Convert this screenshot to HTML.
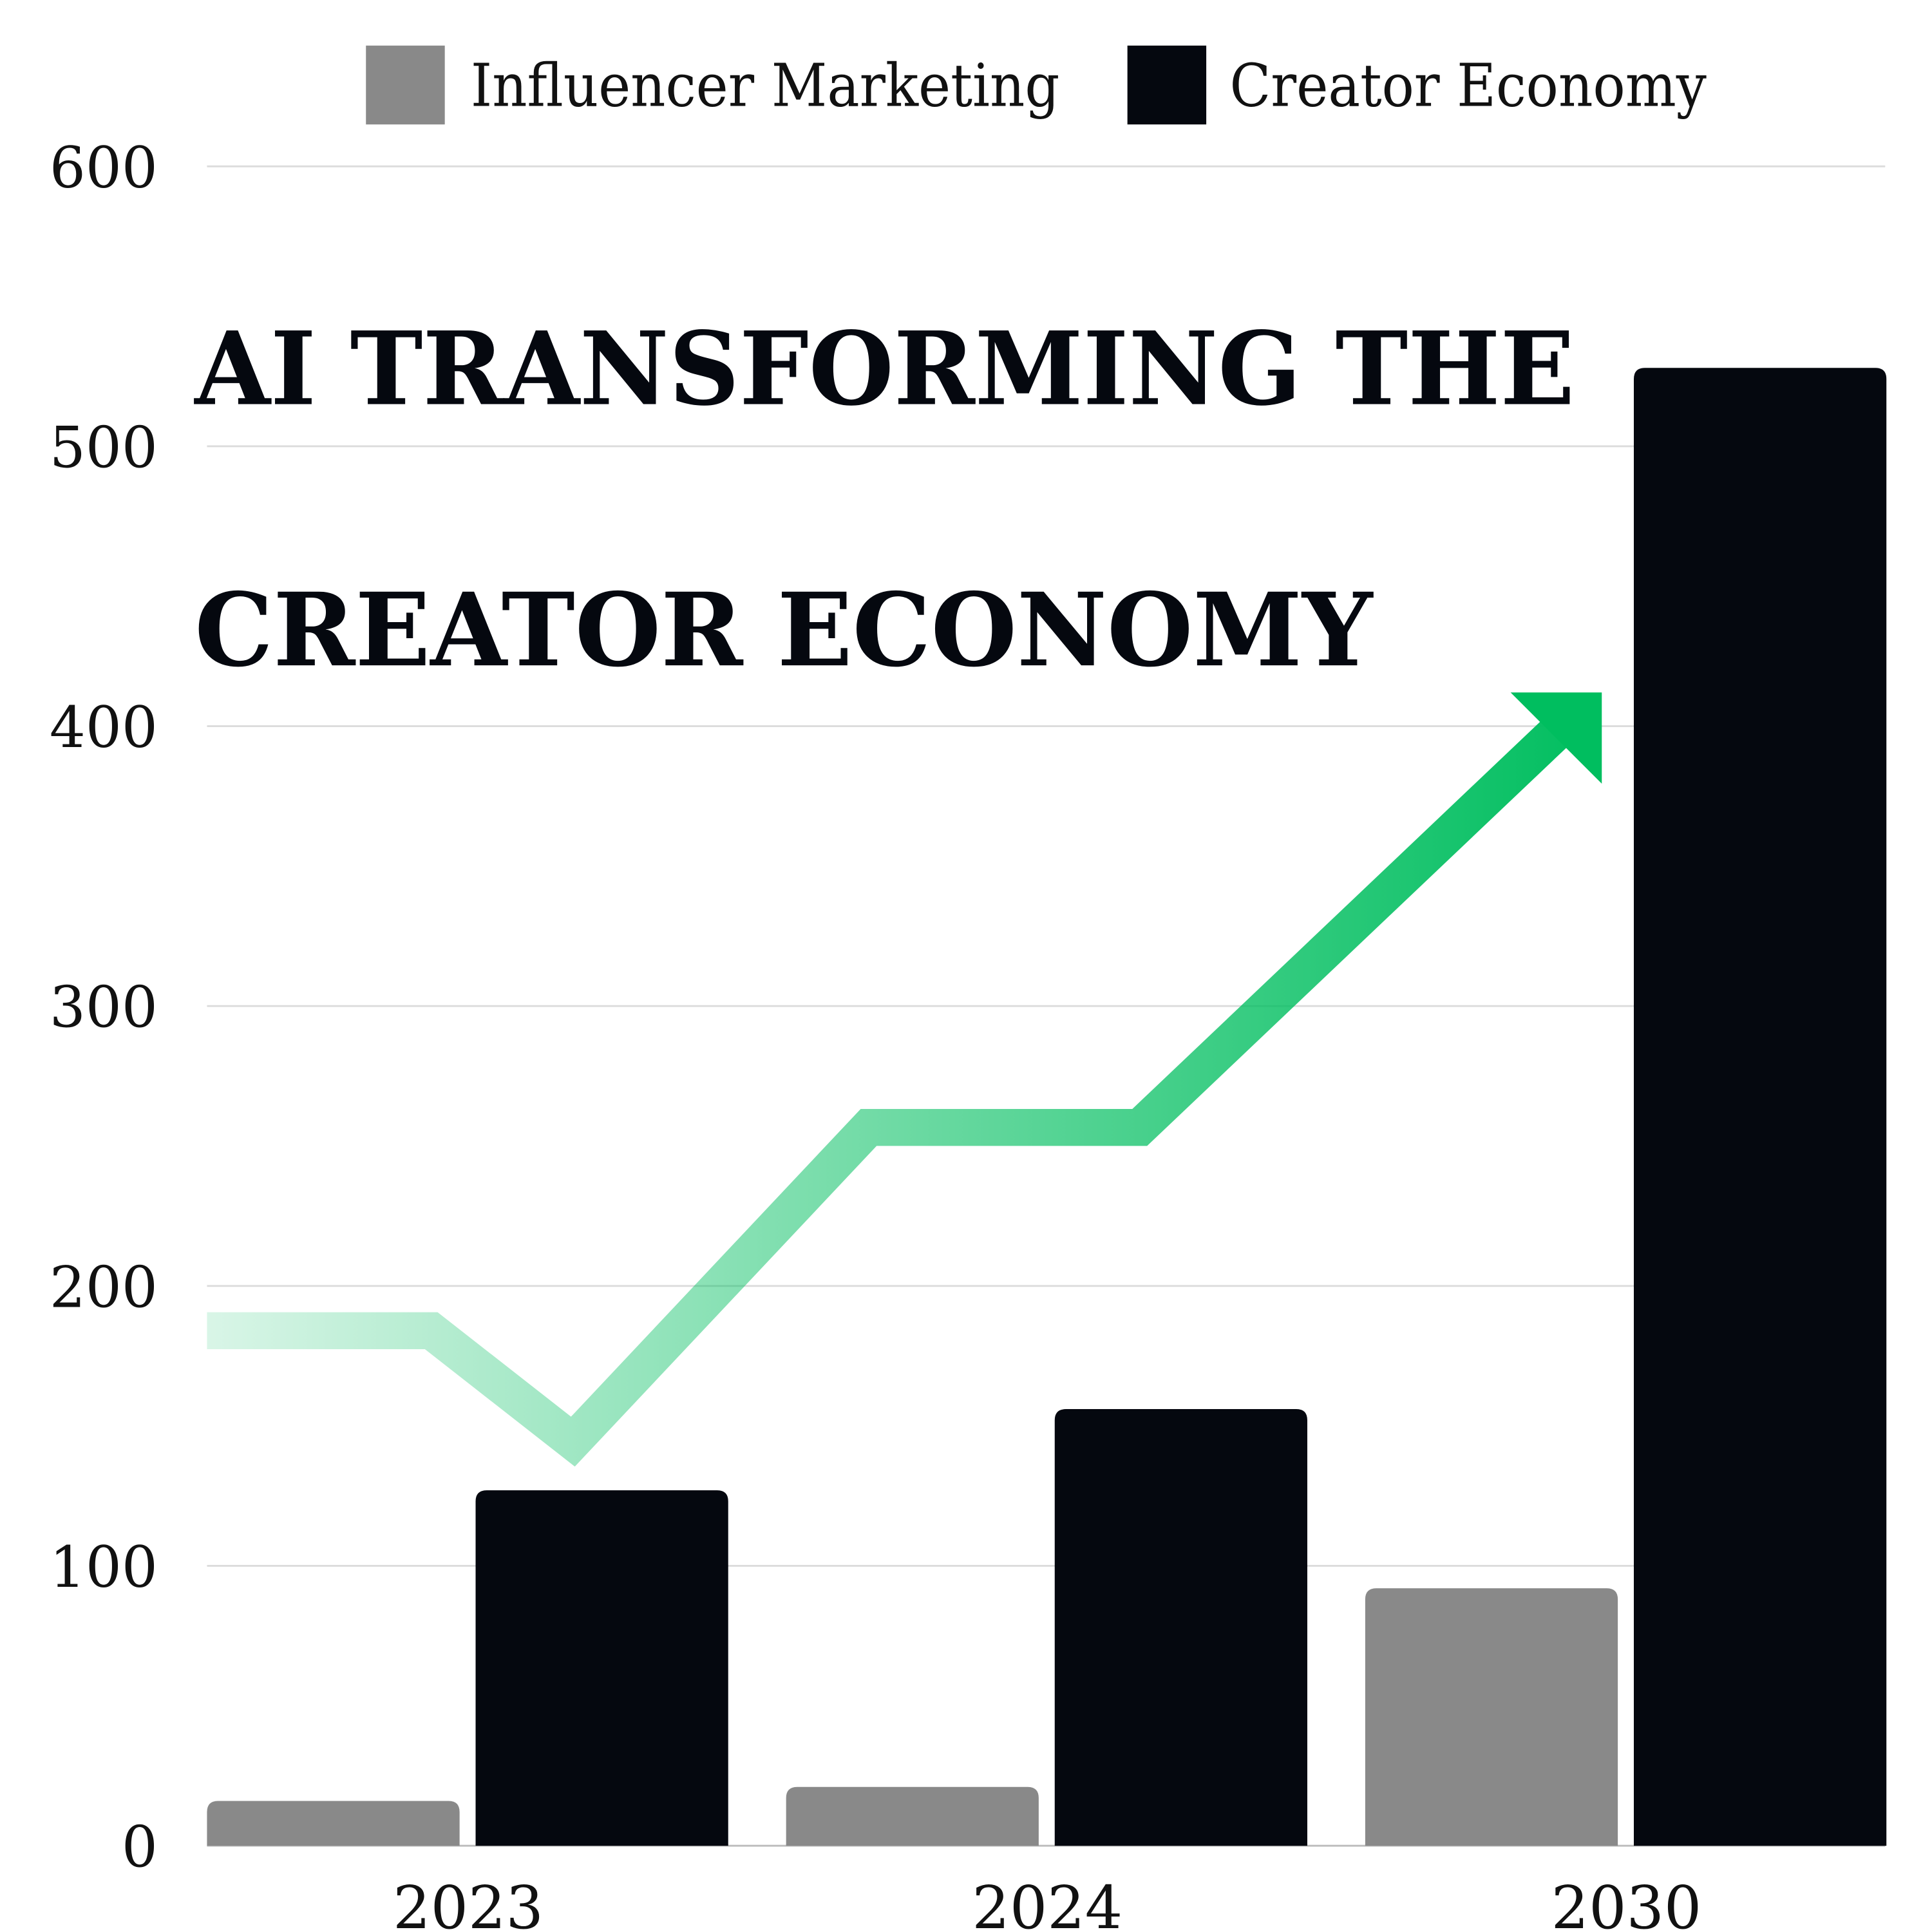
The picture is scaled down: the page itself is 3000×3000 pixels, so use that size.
<!DOCTYPE html>
<html><head><meta charset="utf-8"><style>
html,body{margin:0;padding:0;background:#fff;}
svg{display:block;}
text{font-family:"DejaVu Serif","Liberation Serif",serif;}
</style></head>
<body>
<svg id="chart" width="3000" height="3000" viewBox="0 0 1568 1568" xmlns="http://www.w3.org/2000/svg">
<defs>
<linearGradient id="g" x1="168" y1="0" x2="1300" y2="0" gradientUnits="userSpaceOnUse">
<stop offset="0" stop-color="#00be5f" stop-opacity="0.15"/>
<stop offset="1" stop-color="#00be5f" stop-opacity="1"/>
</linearGradient>
</defs>
<g id="grid"></g>
<g id="yticks"></g>
<g id="bars"></g>
<g id="arrow">
<polyline points="168,1080 350,1080 465,1170 705,915 925,915 1262,595" fill="none" stroke="url(#g)" stroke-width="30" stroke-linejoin="miter"/>
<polygon points="1226,562 1300,562 1300,636" fill="#00be5f"/>
</g>
<g id="xticks"></g>
<g>
<text x="158" y="328" font-size="82" font-weight="bold" fill="#05080f" textLength="1120" lengthAdjust="spacingAndGlyphs">AI TRANSFORMING THE</text>
<text x="158" y="540" font-size="82" font-weight="bold" fill="#05080f" textLength="956" lengthAdjust="spacingAndGlyphs">CREATOR ECONOMY</text>
</g>
<g>
<g>
<rect x="297" y="37" width="64" height="64" fill="#898989"/>
<text x="382" y="86" font-size="48" fill="#111" textLength="478" lengthAdjust="spacingAndGlyphs">Influencer Marketing</text>
</g>
<g>
<rect x="915" y="37" width="64" height="64" fill="#05080f"/>
<text x="998" y="86" font-size="48" fill="#111" textLength="387" lengthAdjust="spacingAndGlyphs">Creator Economy</text>
</g>
</g>
</svg>
<script>
const categories = ["2023","2024","2030"];
const influencerValues = [16, 21, 92];
const creatorValues = [127, 156, 528];
const yTickValues = [0,100,200,300,400,500,600];

const NS="http://www.w3.org/2000/svg";
const L=168,R=1530,Y0=1498,Y600=135;
function y(v){return Y0-(v/600)*(Y0-Y600);}
const groupW=470;
function xGroup(i){return L+i*groupW;}
function mk(tag,attrs,parent){const e=document.createElementNS(NS,tag);for(const k in attrs)e.setAttribute(k,attrs[k]);parent.appendChild(e);return e;}
const grid=document.getElementById('grid'),yt=document.getElementById('yticks'),bars=document.getElementById('bars'),xt=document.getElementById('xticks');
yTickValues.forEach(v=>{
  const ln=mk('line',{x1:L,x2:R,y1:y(v),y2:y(v),stroke:v===0?'#bbb':'#dcdcdc','stroke-width':1.5},grid);
  
  
  const t=mk('text',{x:128,y:y(v)+17,'text-anchor':'end','font-size':46,fill:'#111'},yt);
  t.textContent=v;
  
  
});
function bar(x,w,v,fill,name){
  const top=y(v),r=Math.min(9,(Y0-top));
  const d=`M${x},${Y0} L${x},${top+r} Q${x},${top} ${x+r},${top} L${x+w-r},${top} Q${x+w},${top} ${x+w},${top+r} L${x+w},${Y0} Z`;
  const p=mk('path',{d:d,fill:fill},bars);
  
  
}
const bw=205,gap=13;
categories.forEach((c,i)=>{
  const gx=xGroup(i);
  bar(gx,bw,influencerValues[i],'#898989','bar-influencer-'+c);
  bar(gx+bw+gap,bw,creatorValues[i],'#05080f','bar-creator-'+c);
  const t=mk('text',{x:gx+212,y:1565,'text-anchor':'middle','font-size':48,fill:'#111'},xt);
  t.textContent=c;
  
  
});
</script>
</body></html>
